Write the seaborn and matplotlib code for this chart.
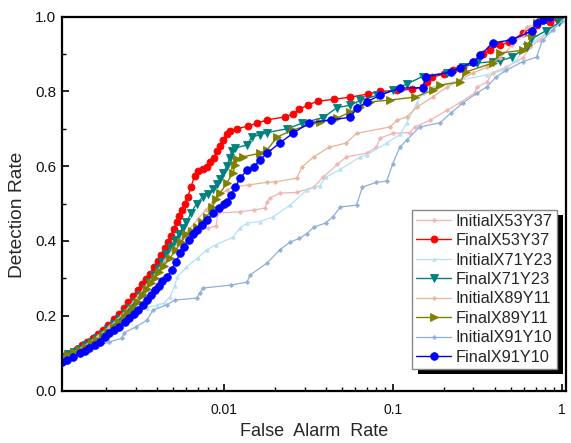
import matplotlib
matplotlib.use("Agg")
import matplotlib.pyplot as plt
import seaborn as sns
import numpy as np
from matplotlib.ticker import FixedLocator, LogLocator, NullFormatter, MultipleLocator
from matplotlib.patches import Rectangle

# ---------------- data ----------------
names = ["InitialX53Y37", "FinalX53Y37", "InitialX71Y23", "FinalX71Y23",
         "InitialX89Y11", "FinalX89Y11", "InitialX91Y10", "FinalX91Y10"]

ini53_x = [0.00110, 0.00130, 0.00150, 0.00180, 0.00210, 0.00250, 0.00300, 0.00350, 0.00400, 0.00450,
           0.00500, 0.00560, 0.00600, 0.00650, 0.00720, 0.00800, 0.00900, 0.00920, 0.01240, 0.01500,
           0.01750, 0.01800, 0.01870, 0.02140, 0.02700, 0.03400, 0.03850, 0.04700, 0.05300, 0.07000,
           0.08000, 0.08400, 0.10000, 0.12600, 0.13500, 0.16600, 0.21000, 0.25000, 0.30500, 0.31500,
           0.36000, 0.39000, 0.47000, 0.59000, 0.65000, 0.74000, 0.89000, 0.97000]
ini53_y = [0.092, 0.105, 0.122, 0.148, 0.172, 0.205, 0.250, 0.290, 0.330, 0.362,
           0.385, 0.400, 0.410, 0.418, 0.428, 0.435, 0.440, 0.475, 0.478, 0.483,
           0.488, 0.505, 0.515, 0.528, 0.530, 0.544, 0.570, 0.605, 0.625, 0.635,
           0.651, 0.675, 0.688, 0.690, 0.705, 0.723, 0.750, 0.770, 0.796, 0.812,
           0.825, 0.850, 0.865, 0.890, 0.920, 0.938, 0.972, 0.990]

fin53_x = [0.00110, 0.00118, 0.00126, 0.00135, 0.00145, 0.00155, 0.00167, 0.00180, 0.00193, 0.00207,
           0.00222, 0.00238, 0.00255, 0.00272, 0.00290, 0.00308, 0.00326, 0.00345, 0.00365, 0.00385,
           0.00405, 0.00425, 0.00445, 0.00465, 0.00485, 0.00505, 0.00525, 0.00545, 0.00565, 0.00585,
           0.00610, 0.00640, 0.00670, 0.00700, 0.00750, 0.00790, 0.00830, 0.00870, 0.00910, 0.00950,
           0.00990, 0.01040, 0.01090, 0.01190, 0.01380, 0.01570, 0.01800, 0.02300, 0.02560, 0.02800,
           0.03140, 0.03600, 0.04500, 0.05600, 0.07100, 0.08400, 0.10600, 0.13000, 0.15000, 0.16000,
           0.17000, 0.20000, 0.22700, 0.26000, 0.30000, 0.34000, 0.37500, 0.43000, 0.49000, 0.59000,
           0.71000, 0.85000, 0.95000]
fin53_y = [0.090, 0.097, 0.104, 0.112, 0.122, 0.130, 0.140, 0.151, 0.163, 0.175,
           0.190, 0.204, 0.220, 0.236, 0.252, 0.268, 0.284, 0.298, 0.313, 0.330,
           0.346, 0.362, 0.380, 0.396, 0.414, 0.432, 0.450, 0.466, 0.482, 0.500,
           0.518, 0.545, 0.575, 0.588, 0.592, 0.598, 0.610, 0.622, 0.640, 0.655,
           0.670, 0.685, 0.693, 0.700, 0.707, 0.715, 0.724, 0.732, 0.740, 0.752,
           0.764, 0.774, 0.779, 0.785, 0.793, 0.800, 0.803, 0.806, 0.812, 0.826,
           0.838, 0.846, 0.857, 0.866, 0.880, 0.900, 0.911, 0.924, 0.932, 0.956,
           0.978, 0.985, 0.995]

ini71_x = [0.00110, 0.00130, 0.00150, 0.00180, 0.00210, 0.00250, 0.00300, 0.00350, 0.00400, 0.00440,
           0.00480, 0.00510, 0.00530, 0.00600, 0.00700, 0.00790, 0.00900, 0.01130, 0.01240, 0.01370,
           0.01630, 0.01950, 0.02460, 0.03100, 0.03700, 0.04000, 0.04900, 0.06400, 0.07000, 0.09200,
           0.11000, 0.12100, 0.13900, 0.15000, 0.17200, 0.25000, 0.36000, 0.45000, 0.54000, 0.59000,
           0.71000, 0.85000, 0.97000]
ini71_y = [0.090, 0.103, 0.118, 0.145, 0.172, 0.205, 0.214, 0.222, 0.228, 0.234,
           0.250, 0.280, 0.304, 0.330, 0.355, 0.376, 0.390, 0.410, 0.434, 0.448,
           0.452, 0.464, 0.496, 0.536, 0.548, 0.570, 0.592, 0.625, 0.630, 0.662,
           0.685, 0.716, 0.770, 0.796, 0.812, 0.830, 0.844, 0.857, 0.884, 0.911,
           0.938, 0.965, 0.985]

fin71_x = [0.00110, 0.00120, 0.00130, 0.00140, 0.00152, 0.00165, 0.00178, 0.00192, 0.00207, 0.00223,
           0.00240, 0.00258, 0.00277, 0.00297, 0.00318, 0.00340, 0.00362, 0.00385, 0.00408, 0.00432,
           0.00457, 0.00483, 0.00510, 0.00540, 0.00570, 0.00600, 0.00640, 0.00690, 0.00750, 0.00800,
           0.00860, 0.00910, 0.00950, 0.00990, 0.01040, 0.01080, 0.01110, 0.01160, 0.01370, 0.01460,
           0.01630, 0.01800, 0.02360, 0.02900, 0.03850, 0.04700, 0.05600, 0.06400, 0.08100, 0.10000,
           0.12100, 0.15000, 0.21000, 0.26000, 0.31500, 0.39000, 0.43000, 0.51000, 0.62000, 0.66000,
           0.81000, 0.97000]
fin71_y = [0.090, 0.097, 0.104, 0.112, 0.121, 0.131, 0.141, 0.152, 0.164, 0.178,
           0.192, 0.207, 0.222, 0.238, 0.255, 0.272, 0.290, 0.308, 0.326, 0.345,
           0.365, 0.385, 0.402, 0.418, 0.435, 0.450, 0.476, 0.500, 0.518, 0.526,
           0.538, 0.552, 0.566, 0.582, 0.600, 0.622, 0.640, 0.648, 0.657, 0.678,
           0.684, 0.690, 0.700, 0.715, 0.730, 0.757, 0.763, 0.776, 0.790, 0.803,
           0.820, 0.840, 0.850, 0.865, 0.876, 0.880, 0.882, 0.892, 0.920, 0.940,
           0.963, 0.985]

ini89_x = [0.00110, 0.00130, 0.00150, 0.00180, 0.00210, 0.00250, 0.00300, 0.00350, 0.00400, 0.00450,
           0.00500, 0.00560, 0.00620, 0.00700, 0.00780, 0.00860, 0.00950, 0.01050, 0.01130, 0.01400,
           0.01800, 0.02000, 0.02700, 0.02900, 0.03400, 0.04200, 0.05300, 0.06100, 0.09600, 0.10600,
           0.12100, 0.13900, 0.17200, 0.21000, 0.30000, 0.36000, 0.43000, 0.51000, 0.59000, 0.62000,
           0.74000, 0.80000]
ini89_y = [0.090, 0.104, 0.120, 0.146, 0.170, 0.203, 0.245, 0.283, 0.318, 0.350,
           0.378, 0.405, 0.430, 0.458, 0.483, 0.505, 0.525, 0.537, 0.544, 0.550,
           0.557, 0.558, 0.568, 0.598, 0.625, 0.651, 0.662, 0.688, 0.705, 0.723,
           0.732, 0.758, 0.785, 0.812, 0.850, 0.865, 0.890, 0.924, 0.951, 0.972,
           0.983, 0.998]

fin89_x = [0.00110, 0.00120, 0.00130, 0.00140, 0.00152, 0.00165, 0.00178, 0.00192, 0.00207, 0.00223,
           0.00240, 0.00258, 0.00270, 0.00290, 0.00310, 0.00330, 0.00350, 0.00370, 0.00390, 0.00410,
           0.00440, 0.00480, 0.00520, 0.00560, 0.00600, 0.00650, 0.00690, 0.00740, 0.00790, 0.00850,
           0.00900, 0.00950, 0.01040, 0.01130, 0.01170, 0.01200, 0.01300, 0.01630, 0.01800, 0.02060,
           0.02560, 0.03700, 0.04700, 0.05600, 0.06400, 0.07300, 0.09600, 0.13500, 0.17200, 0.19000,
           0.25000, 0.27000, 0.39000, 0.43000, 0.59000, 0.63000, 0.67000, 0.71000, 0.75000]
fin89_y = [0.088, 0.095, 0.102, 0.109, 0.117, 0.126, 0.136, 0.146, 0.157, 0.170,
           0.183, 0.197, 0.207, 0.222, 0.238, 0.255, 0.272, 0.288, 0.302, 0.316,
           0.333, 0.355, 0.377, 0.398, 0.418, 0.428, 0.437, 0.450, 0.464, 0.490,
           0.512, 0.528, 0.555, 0.582, 0.603, 0.620, 0.625, 0.635, 0.643, 0.678,
           0.697, 0.718, 0.729, 0.745, 0.758, 0.772, 0.777, 0.785, 0.803, 0.817,
           0.825, 0.852, 0.876, 0.903, 0.910, 0.924, 0.951, 0.983, 0.998]

ini91_x = [0.00110, 0.00130, 0.00150, 0.00170, 0.00210, 0.00250, 0.00255, 0.00300, 0.00350, 0.00380,
           0.00460, 0.00510, 0.00690, 0.00720, 0.00750, 0.01100, 0.01370, 0.01430, 0.01800, 0.02140,
           0.02460, 0.02800, 0.03100, 0.03400, 0.04000, 0.04400, 0.04900, 0.06100, 0.06600, 0.08000,
           0.09200, 0.10000, 0.11000, 0.12100, 0.14400, 0.19000, 0.22000, 0.26000, 0.31500, 0.36000,
           0.41000, 0.47000, 0.59000, 0.71000, 0.77000, 0.89000, 1.00000]
ini91_y = [0.085, 0.096, 0.106, 0.116, 0.130, 0.140, 0.154, 0.170, 0.188, 0.215,
           0.229, 0.242, 0.247, 0.260, 0.274, 0.282, 0.290, 0.309, 0.341, 0.376,
           0.397, 0.407, 0.420, 0.437, 0.448, 0.464, 0.491, 0.496, 0.544, 0.557,
           0.560, 0.607, 0.651, 0.670, 0.705, 0.716, 0.742, 0.769, 0.796, 0.812,
           0.839, 0.857, 0.880, 0.892, 0.938, 0.965, 0.988]

fin91_x = [0.00110, 0.00118, 0.00128, 0.00140, 0.00150, 0.00160, 0.00172, 0.00185, 0.00198, 0.00210,
           0.00224, 0.00240, 0.00258, 0.00275, 0.00292, 0.00310, 0.00330, 0.00350, 0.00370, 0.00390,
           0.00410, 0.00430, 0.00460, 0.00490, 0.00520, 0.00550, 0.00580, 0.00620, 0.00660, 0.00690,
           0.00740, 0.00790, 0.00860, 0.00930, 0.01000, 0.01040, 0.01100, 0.01170, 0.01250, 0.01370,
           0.01500, 0.01630, 0.01800, 0.02140, 0.02560, 0.03200, 0.04300, 0.05600, 0.06100, 0.07000,
           0.08400, 0.11000, 0.15000, 0.15800, 0.22000, 0.25000, 0.30000, 0.33000, 0.39000, 0.51000,
           0.67000, 0.71000, 0.77000, 0.85000]
fin91_y = [0.075, 0.082, 0.090, 0.100, 0.107, 0.114, 0.122, 0.131, 0.142, 0.154,
           0.162, 0.170, 0.183, 0.193, 0.204, 0.215, 0.230, 0.243, 0.256, 0.268,
           0.280, 0.292, 0.304, 0.322, 0.344, 0.367, 0.385, 0.402, 0.420, 0.430,
           0.443, 0.456, 0.475, 0.488, 0.498, 0.504, 0.522, 0.545, 0.568, 0.590,
           0.598, 0.617, 0.635, 0.662, 0.688, 0.716, 0.724, 0.731, 0.755, 0.772,
           0.790, 0.809, 0.810, 0.840, 0.852, 0.863, 0.880, 0.897, 0.930, 0.938,
           0.963, 0.983, 0.990, 0.998]

series_x = [ini53_x, fin53_x, ini71_x, fin71_x, ini89_x, fin89_x, ini91_x, fin91_x]
series_y = [ini53_y, fin53_y, ini71_y, fin71_y, ini89_y, fin89_y, ini91_y, fin91_y]

x_ticks = [0.01, 0.1, 1]
x_tick_labels = ["0.01", "0.1", "1"]
y_ticks = [0.0, 0.2, 0.4, 0.6, 0.8, 1.0]
y_tick_labels = ["0.0", "0.2", "0.4", "0.6", "0.8", "1.0"]

# ---------------- styles ----------------
colors = ["#f2b3b3", "#ff0000", "#b5e1f4", "#008080",
          "#e8b49c", "#808000", "#8fb0d6", "#0000ff"]
markers = ["P", "o", "^", "v", "P", ">", "P", "o"]
msizes = [2.5, 5, 2.5, 5.5, 2.5, 5.5, 2.5, 5.5]
lwidths = [0.9, 1.0, 0.9, 1.0, 0.9, 1.0, 0.9, 1.0]

sns.set_theme(style="white")
plt.rcParams['font.family'] = ['Liberation Sans', 'DejaVu Sans']

fig = plt.figure(figsize=(5.71, 4.43), dpi=100)
ax = fig.add_axes([62/571, 1 - 390.5/443, 504/571, 373.8/443])

for i in range(8):
    sns.lineplot(x=series_x[i], y=series_y[i], ax=ax, color=colors[i], marker=markers[i],
                 markersize=msizes[i], markeredgecolor=colors[i], markeredgewidth=0.6,
                 linewidth=lwidths[i], estimator=None, sort=False, label=names[i])

ax.set_xscale("log")
ax.set_xlim(0.0011, 1.06)
ax.set_ylim(0.0, 1.0)

ax.xaxis.set_major_locator(FixedLocator(x_ticks))
ax.set_xticklabels(x_tick_labels)
ax.xaxis.set_minor_locator(LogLocator(base=10, subs=np.arange(2, 10)))
ax.xaxis.set_minor_formatter(NullFormatter())
ax.set_yticks(y_ticks)
ax.set_yticklabels(y_tick_labels)
ax.yaxis.set_minor_locator(MultipleLocator(0.1))

ax.tick_params(axis="both", which="both", direction="in", top=False, right=False,
               bottom=True, left=True, colors="black", labelcolor="#111111")
ax.tick_params(axis="x", labelsize=10, pad=9)
ax.tick_params(axis="y", labelsize=11, pad=4)
ax.tick_params(which="major", length=5, width=1.2)
ax.tick_params(which="minor", length=3, width=1.0)

for s in ax.spines.values():
    s.set_visible(True)
    s.set_color("black")
    s.set_linewidth(1.6)

ax.set_xlabel("False  Alarm  Rate", fontsize=13, va="center")
ax.xaxis.set_label_coords(0.5, (390.5 - 432) / 373.8)
ax.set_ylabel("Detection Rate", fontsize=13.8, va="center")
ax.yaxis.set_label_coords((18 - 62) / 504, (390.5 - 215) / 373.8)
ax.grid(False)
ax.set_facecolor("white")

leg = ax.legend(loc="lower right", bbox_to_anchor=(0.982, 0.058), borderaxespad=0,
                fontsize=11.8, frameon=True, fancybox=False, edgecolor="#888888",
                framealpha=1, labelspacing=0.27, handlelength=2.1, handletextpad=0.3,
                borderpad=0.25)
leg.get_frame().set_linewidth(1.0)
leg.set_zorder(6)

fig.canvas.draw()
bb = leg.get_window_extent().transformed(ax.transAxes.inverted())
dx = 6 / 504
dy = 5 / 373.8
ax.add_patch(Rectangle((bb.x0 + dx, bb.y0 - dy), bb.width, bb.height, transform=ax.transAxes,
                       facecolor="black", edgecolor="none", clip_on=False, zorder=5.5))

fig.savefig("out.png", dpi=100)
